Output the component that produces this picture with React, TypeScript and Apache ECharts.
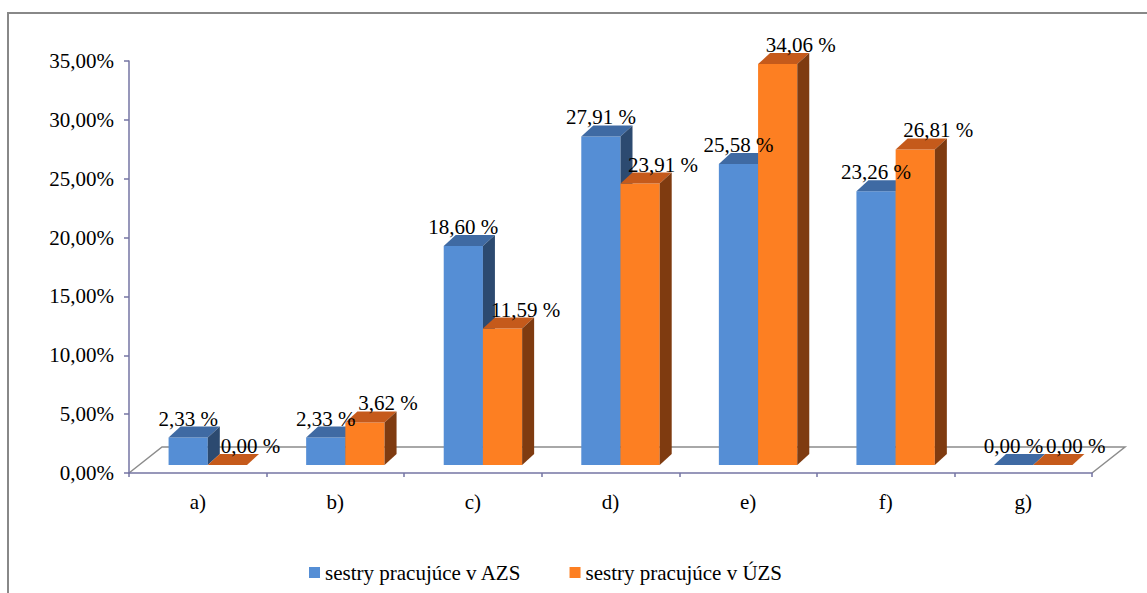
import React, { useEffect, useRef } from 'react';
import * as echarts from 'echarts';

// Answer categories and shares (%) for the two groups of nurses
const categories = ['a)', 'b)', 'c)', 'd)', 'e)', 'f)', 'g)'];
const azsValues = [2.33, 2.33, 18.6, 27.91, 25.58, 23.26, 0.0];
const uzsValues = [0.0, 3.62, 11.59, 23.91, 34.06, 26.81, 0.0];
const seriesNames = ['sestry pracujúce v AZS', 'sestry pracujúce v ÚZS'];
const seriesValues = [azsValues, uzsValues];

// Value axis range
const yMin = 0;
const yMax = 35;
const yStep = 5;

// Plot geometry (front plane of the 3D floor)
const GRID = { left: 129, top: 61, width: 963, height: 412 };
const FLOOR_DX = 33;
const FLOOR_DY = -26;
// Bars stand a little behind the front edge of the floor
const BAR_PLANE_DX = 10;
const BAR_PLANE_DY = -8;
// Depth of each prism
const BAR_DEPTH_DX = 12;
const BAR_DEPTH_DY = -11;
const BAR_FRACTION = 0.285;

const FONT = 'Liberation Serif';
const AXIS_COLOR = '#7575A3';
const FLOOR_COLOR = '#8C8C8C';

const palettes = [
  { front: '#558ED5', top: '#3F6AA3', side: '#2C4A70' },
  { front: '#FD7F22', top: '#C55A1B', side: '#7F3B10' },
];
// horizontal nudge of the value labels, per series
const labelShift = [-6, 17];

const fmtPct = (v: number) => v.toFixed(2).replace('.', ',') + ' %';
const fmtAxis = (v: number) => v.toFixed(2).replace('.', ',') + '%';

function makeRenderItem(s: number) {
  const pal = palettes[s];
  return (params: any, api: any) => {
    const idx = api.value(0);
    const v = api.value(1);
    const [cx, yv] = api.coord([idx, v]);
    const [, y0] = api.coord([idx, 0]);
    const catW = api.size([1, 0])[0];
    const w = catW * BAR_FRACTION;
    const center = cx + BAR_PLANE_DX;
    const x0 = s === 0 ? center - w : center;
    const x1 = x0 + w;
    const yt = yv + BAR_PLANE_DY;
    const yb = y0 + BAR_PLANE_DY;
    const dx = BAR_DEPTH_DX;
    const dy = BAR_DEPTH_DY;
    return {
      type: 'group',
      children: [
        {
          type: 'rect',
          shape: { x: x0, y: yt, width: w, height: Math.max(0, yb - yt) },
          style: { fill: pal.front },
        },
        {
          type: 'polygon',
          shape: { points: [[x0, yt], [x1, yt], [x1 + dx, yt + dy], [x0 + dx, yt + dy]] },
          style: { fill: pal.top },
        },
        {
          type: 'polygon',
          shape: { points: [[x1, yt], [x1 + dx, yt + dy], [x1 + dx, yb + dy], [x1, yb]] },
          style: { fill: pal.side },
        },
        {
          type: 'text',
          z2: 100,
          style: {
            text: fmtPct(v),
            x: x0 + w / 2 + dx / 2 + labelShift[s],
            y: yt - 19,
            align: 'center',
            verticalAlign: 'middle',
            fontFamily: FONT,
            fontSize: 21,
            fill: '#000000',
          },
        },
      ],
    };
  };
}

export default function App() {
  const ref = useRef<HTMLDivElement>(null);

  useEffect(() => {
    if (!ref.current) return;
    const chart = echarts.init(ref.current, undefined, { renderer: 'svg' });

    const fl = GRID.left;
    const fb = GRID.top + GRID.height;
    const fr = GRID.left + GRID.width;

    chart.setOption({
      animation: false,
      backgroundColor: '#ffffff',
      textStyle: { fontFamily: FONT },
      grid: { ...GRID },
      xAxis: {
        type: 'category',
        data: categories,
        boundaryGap: true,
        axisLine: { show: true, lineStyle: { color: AXIS_COLOR, width: 1.5 } },
        axisTick: { show: true, length: 4, inside: false, lineStyle: { color: AXIS_COLOR, width: 1.5 } },
        axisLabel: { color: '#000', fontFamily: FONT, fontSize: 21, margin: 18 },
        splitLine: { show: false },
      },
      yAxis: {
        type: 'value',
        min: yMin,
        max: yMax,
        interval: yStep,
        axisLine: { show: true, lineStyle: { color: AXIS_COLOR, width: 1.5 } },
        axisTick: { show: true, length: 5, lineStyle: { color: AXIS_COLOR, width: 1.5 } },
        axisLabel: { color: '#000', fontFamily: FONT, fontSize: 21, margin: 15, formatter: fmtAxis },
        splitLine: { show: false },
      },
      legend: {
        data: seriesNames,
        icon: 'rect',
        itemWidth: 11,
        itemHeight: 11,
        itemGap: 48,
        left: 304,
        top: 557,
        textStyle: { color: '#000', fontFamily: FONT, fontSize: 21 },
      },
      graphic: [
        {
          type: 'rect',
          z: 0,
          shape: { x: 8, y: 13, width: 1300, height: 800 },
          style: { fill: 'none', stroke: '#888888', lineWidth: 2 },
          silent: true,
        },
        {
          type: 'polyline',
          z: 0,
          shape: {
            points: [
              [fl, fb],
              [fl + FLOOR_DX, fb + FLOOR_DY],
              [fr + FLOOR_DX, fb + FLOOR_DY],
              [fr, fb],
            ],
          },
          style: { fill: 'none', stroke: FLOOR_COLOR, lineWidth: 1.5 },
          silent: true,
        },
      ],
      series: seriesNames.map((name, s) => ({
        type: 'custom',
        name,
        coordinateSystem: 'cartesian2d',
        itemStyle: { color: palettes[s].front },
        encode: { x: 0, y: 1 },
        data: seriesValues[s].map((v, i) => [i, v]),
        renderItem: makeRenderItem(s),
      })),
    });

    return () => chart.dispose();
  }, []);

  return (
    <div
      ref={ref}
      style={{ position: 'fixed', left: 0, top: 0, width: 1147, height: 593 }}
    />
  );
}
